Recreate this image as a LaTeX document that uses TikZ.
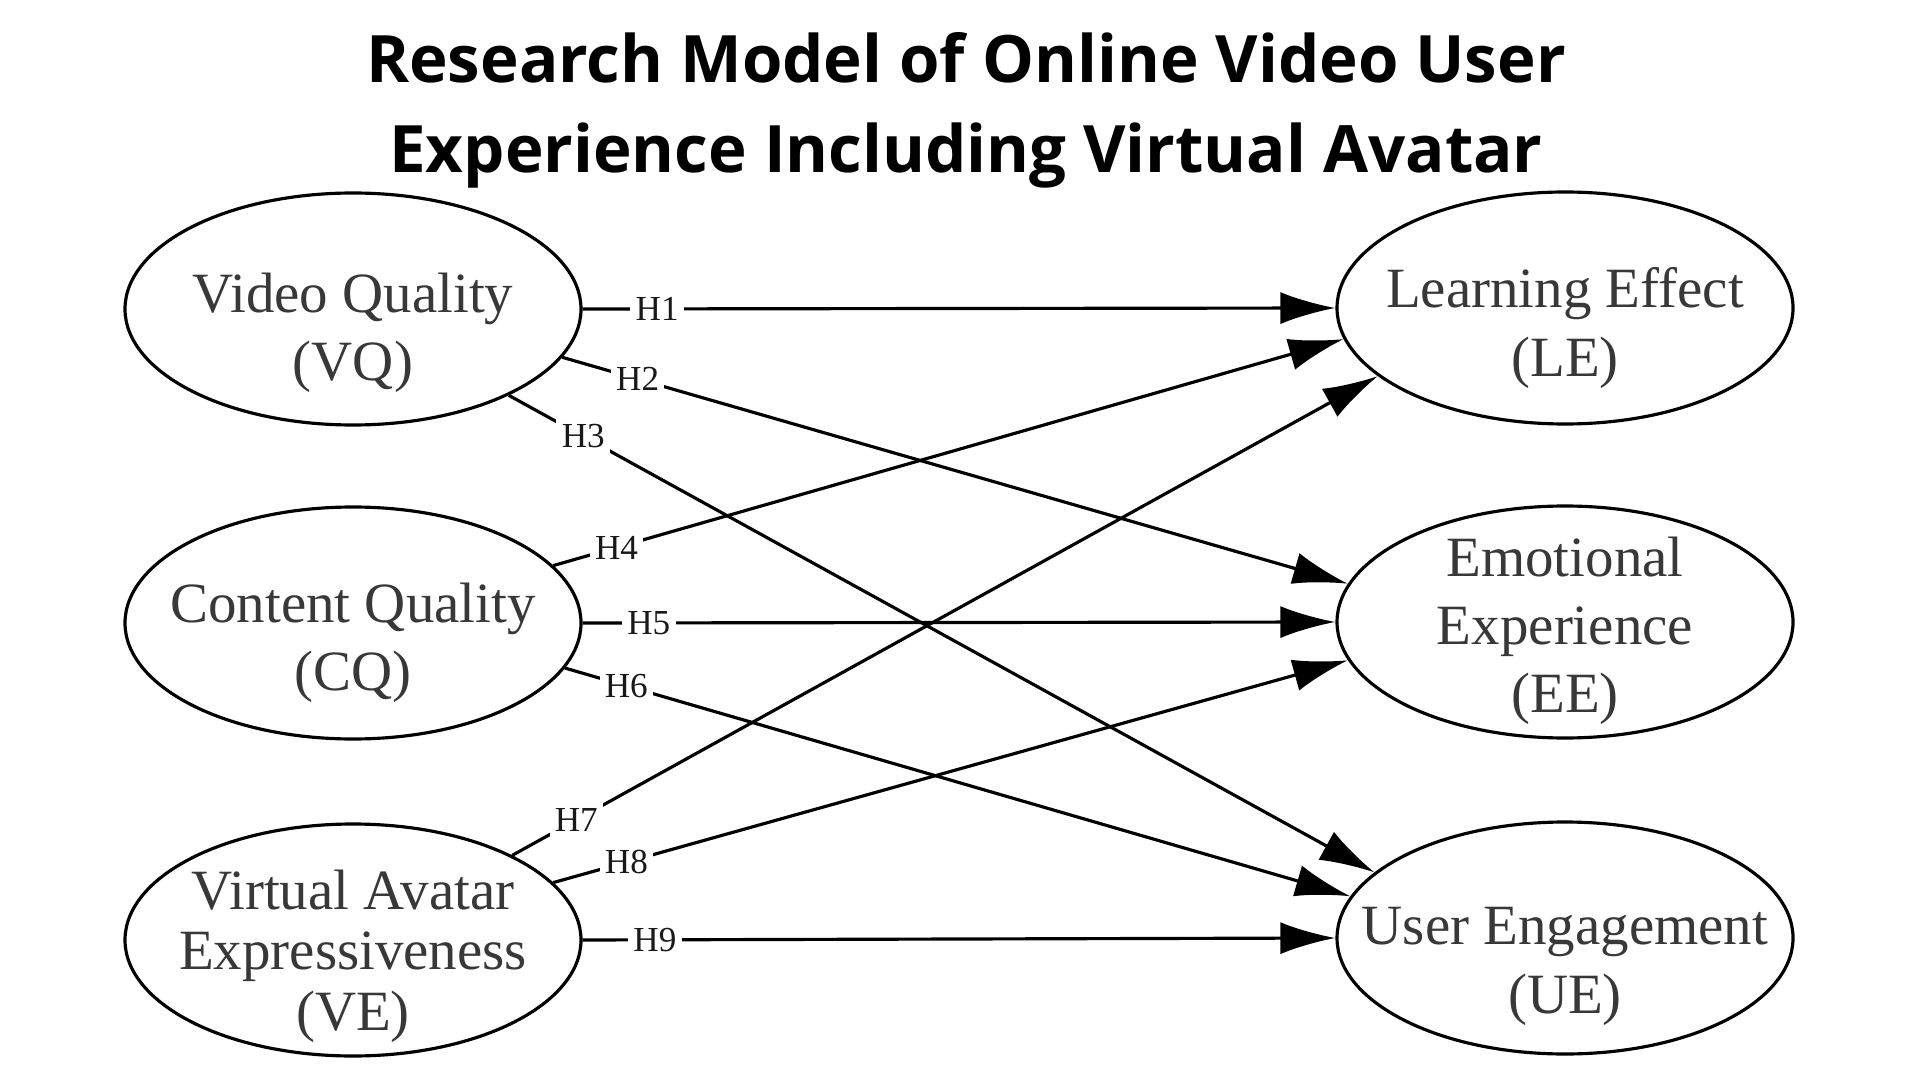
\documentclass[tikz,border=0pt]{standalone}
\usepackage{fontspec}
\setmainfont{Liberation Serif}
\newfontfamily\titlefont{Open Sans}
\usetikzlibrary{shapes.geometric}
\usetikzlibrary{arrows.meta}

\begin{document}
\begin{tikzpicture}[
	construct/.style={ellipse, draw, line width=0.9pt, minimum width=4.56cm, minimum height=2.32cm, inner sep=0pt},
	ctext/.style={align=center, text=black!78, font=\fontsize{16.2}{19.4}\selectfont, yshift=-2mm},
	hyp/.style={line width=0.9pt, -{Latex[length=5.5mm,width=3.2mm]}},
	hlabel/.style={fill=white, inner sep=1.5pt, font=\fontsize{10}{12}\selectfont, text=black!90},
	title/.style={font=\titlefont\bfseries\fontsize{18.6}{22}\selectfont, anchor=base}
	]
	\fill[white] (0,0) rectangle (19.2,-10.8);
	\useasboundingbox (0,0) rectangle (19.2,-10.8);
	\node[title] (title1) at (9.66,-0.83) {Research Model of Online Video User};
	\node[title] (title2) at (9.66,-1.73) {Experience Including Virtual Avatar};
	% left column
	\node[construct, label={[ctext, name=VQt, yshift=-0.4mm]center:{Video Quality\\(VQ)}}] (VQ) at (3.53,-3.09) {};
	\node[construct, label={[ctext, name=CQt]center:{Content Quality\\(CQ)}}] (CQ) at (3.53,-6.23) {};
	\node[construct, label={[ctext, name=VEt, font=\fontsize{16.2}{17.2}\selectfont, yshift=0.4mm]center:{Virtual Avatar\\Expressiveness\\(VE)}}] (VE) at (3.53,-9.40) {};
	% right column
	\node[construct, label={[ctext, name=LEt]center:{Learning Effect\\(LE)}}] (LE) at (15.65,-3.08) {};
	\node[construct, label={[ctext, name=EEt, yshift=1.1mm]center:{Emotional\\Experience\\(EE)}}] (EE) at (15.65,-6.22) {};
	\node[construct, label={[ctext, name=UEt, yshift=-0.85mm]center:{User Engagement\\(UE)}}] (UE) at (15.65,-9.38) {};
	% hypotheses
	\draw[hyp] (VQ.east) -- (LE.west) node[hlabel, pos=0.099] (h1) {H1};
	\draw[hyp] (VQ.-13) -- (EE.170) node[hlabel, pos=0.096] (h2) {H2};
	\draw[hyp] (VQ.-29) -- (UE.161) node[hlabel, pos=0.086] (h3) {H3};
	\draw[hyp] (CQ.16) -- (LE.188) node[hlabel, pos=0.08] (h4) {H4};
	\draw[hyp] (CQ.east) -- (EE.west) node[hlabel, pos=0.088] (h5) {H5};
	\draw[hyp] (CQ.-12) -- (UE.169) node[hlabel, pos=0.078] (h6) {H6};
	\draw[hyp] (VE.28) -- (LE.200) node[hlabel, pos=0.074] (h7) {H7};
	\draw[hyp] (VE.16) -- (EE.190) node[hlabel, pos=0.092] (h8) {H8};
	\draw[hyp] (VE.east) -- (UE.west) node[hlabel, pos=0.096] (h9) {H9};
\end{tikzpicture}
\end{document}
